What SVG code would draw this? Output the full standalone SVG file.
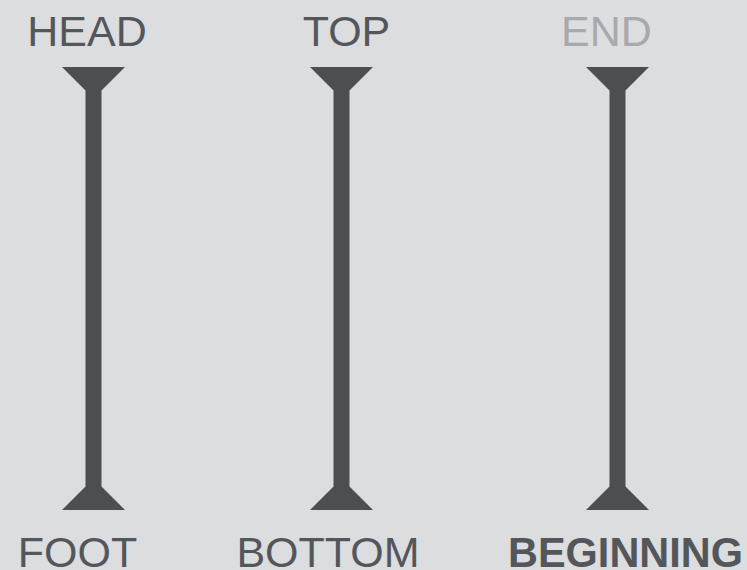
<svg xmlns="http://www.w3.org/2000/svg" width="747" height="570" viewBox="0 0 747 570">
<style>
.lbl{font-family:"Liberation Sans",Arial,Helvetica,sans-serif;font-size:43px;text-anchor:middle;fill:#53575c}
.muted{fill:#a7a9ac}
.bold{font-weight:bold}
.bar{fill:#4c4e51}
</style>
<defs>
<path id="bar" d="M-31.5,67 L31.5,67 L8,90.5 L8,486.5 L31.5,510 L-31.5,510 L-8,486.5 L-8,90.5 Z"/>
</defs>
<rect width="747" height="570" fill="#dcdddf"/>
<g id="connectors">
<use href="#bar" class="bar" x="93.5"/>
<use href="#bar" class="bar" x="341.5"/>
<use href="#bar" class="bar" x="617.5"/>
</g>
<g id="head"><text class="lbl" x="87" y="46">HEAD</text></g>
<g id="foot"><text class="lbl" x="77.5" y="567">FOOT</text></g>
<g id="top"><text class="lbl" x="346.5" y="46">TOP</text></g>
<g id="bottom"><text class="lbl" x="328" y="567">BOTTOM</text></g>
<g id="end"><text class="lbl muted" x="606.5" y="46">END</text></g>
<g id="beginning"><text class="lbl bold" x="625.5" y="567" textLength="235" lengthAdjust="spacingAndGlyphs">BEGINNING</text></g>
</svg>
